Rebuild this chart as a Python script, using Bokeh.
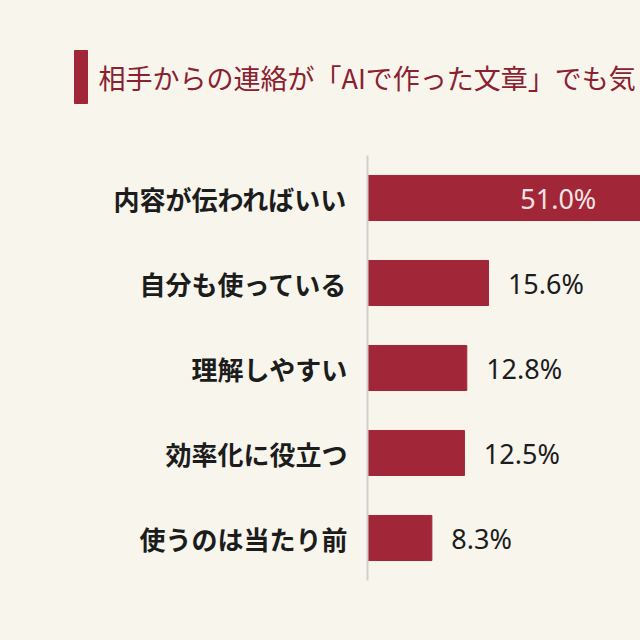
from bokeh.core.properties import value
from bokeh.embed import file_html
from bokeh.layouts import column
from bokeh.models import ColumnDataSource, FactorRange, Range1d
from bokeh.plotting import figure
from bokeh.resources import INLINE

title_text = "相手からの連絡が「AIで作った文章」でも気"
categories = ["内容が伝わればいい", "自分も使っている", "理解しやすい", "効率化に役立つ", "使うのは当たり前"]
shares = [51.0, 15.6, 12.8, 12.5, 8.3]

bg = "#f7f5ec"
bar_color = "#a12738"
title_color = "#8a2131"
jp_font = "Noto Sans CJK JP"

# header: accent bar + title
head = figure(width=640, height=155, x_range=Range1d(0, 640), y_range=Range1d(0, 155),
              output_backend="svg", toolbar_location=None, min_border=0)
head.frame_align = False
head.axis.visible = False
head.grid.visible = False
head.outline_line_color = None
head.background_fill_color = bg
head.border_fill_color = bg
head.quad(left=[74], right=[87], bottom=[52], top=[105], color=bar_color)
head.text(x=[98], y=[78], text=[title_text], text_font=value(jp_font), text_font_size="27px",
          text_color=title_color, text_baseline="middle", text_align="left")

# chart
p = figure(width=640, height=485, y_range=FactorRange(*reversed(categories)),
           x_range=Range1d(0, 35.2), output_backend="svg", toolbar_location=None,
           min_border_left=367, min_border_right=0, min_border_top=0, min_border_bottom=60)
p.frame_align = False
p.background_fill_color = bg
p.border_fill_color = bg
p.outline_line_color = None
p.grid.visible = False
p.xaxis.visible = False

p.yaxis.axis_line_color = "#cfcfcf"
p.yaxis.axis_line_width = 2
p.yaxis.major_tick_line_color = None
p.yaxis.minor_tick_line_color = None
p.yaxis.major_tick_out = 0
p.yaxis.major_tick_in = 0
p.yaxis.major_label_standoff = 20
p.yaxis.major_label_text_font = jp_font
p.yaxis.major_label_text_font_size = "26px"
p.yaxis.major_label_text_font_style = "bold"
p.yaxis.major_label_text_color = "#1c1c1c"

src = ColumnDataSource(dict(cat=categories, val=shares))
p.hbar(y="cat", right="val", left=0, height=0.53, source=src, color=bar_color)

outside = [(c, v) for c, v in zip(categories, shares) if v < 30]
inside = [(c, v) for c, v in zip(categories, shares) if v >= 30]

p.text(x=[v + 2.5 for c, v in outside], y=[c for c, v in outside],
       text=[f"{v:.1f}%" for c, v in outside], text_font=value("Noto Sans"),
       text_font_size="27px", text_color="#1c1c1c", text_baseline="middle", text_align="left")
p.text(x=[v / 2 - 0.9 for c, v in inside], y=[c for c, v in inside],
       text=[f"{v:.1f}%" for c, v in inside], text_font=value("Noto Sans"),
       text_font_size="27px", text_color="#f6e4e4", text_baseline="middle", text_align="center")

layout = column(head, p, spacing=0)
html = file_html(layout, INLINE)
html = html.replace("<body>", f'<body style="background:{bg}">')
open("out.html", "w").write(html)
